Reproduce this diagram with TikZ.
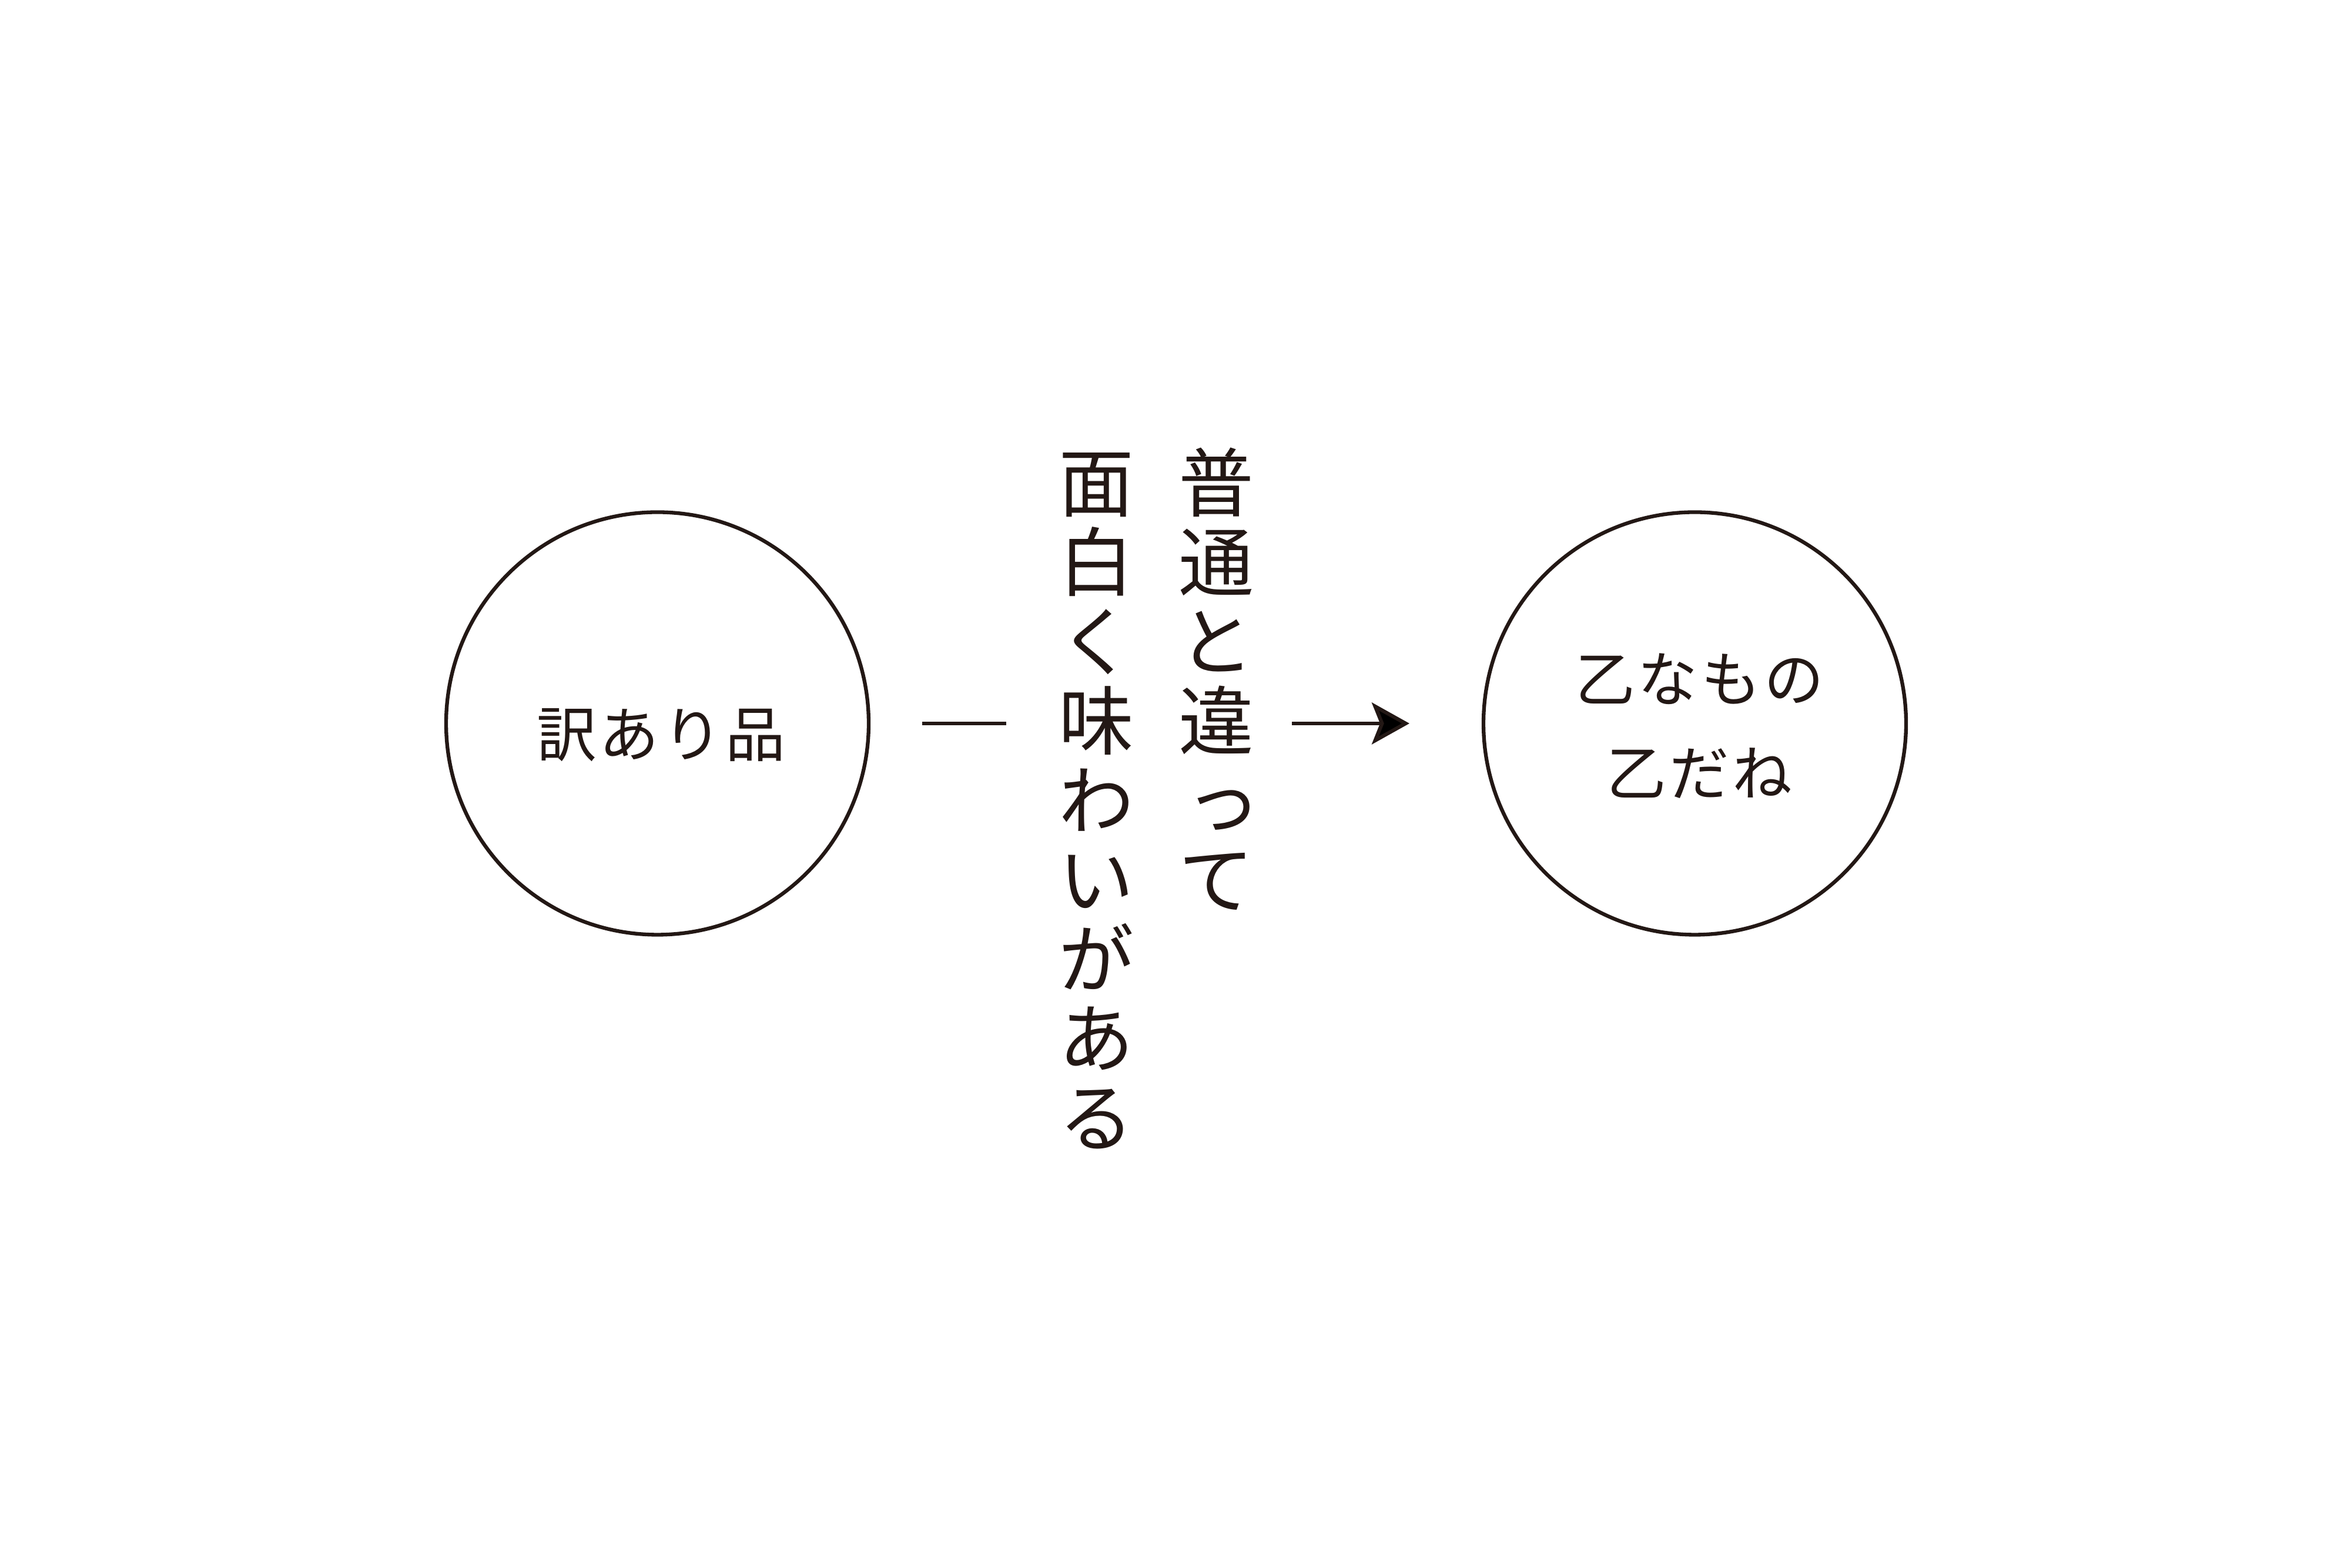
\documentclass[tikz,border=0pt]{standalone}
\usepackage{fontspec}
\usepackage{tikz}
\usetikzlibrary{arrows.meta, positioning}
\newfontfamily\jpfont{Noto Sans CJK JP}
\definecolor{ink}{HTML}{231815}

\begin{document}
\begin{tikzpicture}[
        node distance=1cm,on grid,>={Stealth[length=0.64cm,width=0.71cm,inset=0.14cm]},
        every node/.style={text=ink},
        item/.style={circle, draw=ink, line width=1.8pt, minimum size=7.19cm, inner sep=0pt, outer sep=0pt},
        caption/.style={font=\jpfont\fontsize{29pt}{45.5pt}\selectfont\addfontfeature{LetterSpace=5}, align=center, inner sep=0pt},
        column/.style={font=\jpfont\fontsize{36.4pt}{38.4pt}\selectfont, align=center, inner sep=0pt, outer sep=0pt, anchor=north},
        link/.style={draw=ink, line width=1.8pt},
        ]
        \path[use as bounding box, fill=white] (0,0) rectangle (40,26.68);

        \node[item]                (c_0)                          at (11.185,14.37) {};
        \node[item]                (c_1) [right=17.65cm of c_0]                     {};
        \node[caption]             (l_0) [below right=0.2cm and 0.06cm of c_0]      {訳あり品};
        \node[caption]             (l_1) [below right=0.04cm and 0.08cm of c_1]     {乙なもの\\乙だね};
        \node[column]              (t_0)                          at (20.69,19.06)
              {普\\通\\と\\違\\\makebox[1em][l]{\hspace*{0.1em}っ}\\て};
        \node[column]              (t_1) [below left=0.09cm and 2.04cm of t_0.north, anchor=north]
              {面\\白\\く\\味\\わ\\い\\が\\あ\\る};
        \path[link] (c_0.east) edge[shorten <=0.91cm, shorten >=0.89cm] (c_0.east -| t_1.west)
              (c_0.east -| t_0.east) edge[->, shorten <=0.655cm, shorten >=1.26cm] (c_1.west);
      \end{tikzpicture}
\end{document}
